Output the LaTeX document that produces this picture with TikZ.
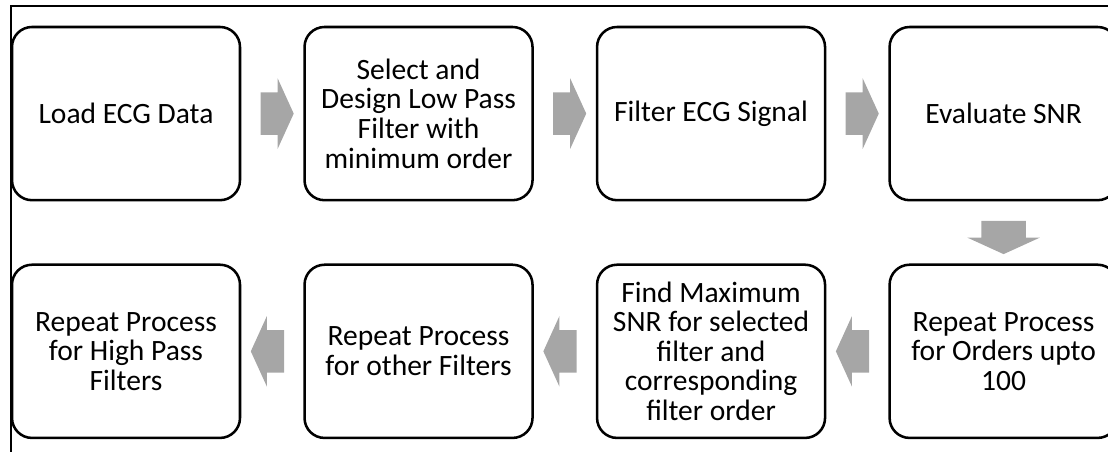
\documentclass[tikz,border=0pt]{standalone}
\usepackage{fontspec}
\setmainfont{Carlito}
\usepackage{tikz}
\usetikzlibrary{arrows.meta,shapes,positioning,calc}
\definecolor{flowgray}{RGB}{166,166,166}

\begin{document}
\begin{tikzpicture}[
    node distance=1.55cm,
    stage/.style={rectangle, draw=black, line width=1.8pt, rounded corners=0.5cm, minimum width=5.7cm, minimum height=4.33cm, align=center, font=\fontsize{21}{21}\selectfont},
    blockarrow/.style={single arrow, fill=flowgray, draw=none, inner xsep=0pt, inner ysep=0.525cm, minimum height=0.83cm, single arrow head extend=0.35cm, single arrow tip angle=131},
    downarrow/.style={blockarrow, shape border rotate=270, inner xsep=0.55cm, inner ysep=0pt, minimum width=0.83cm}
]
    \useasboundingbox (0,0) rectangle (27.7,-11.3);
    \draw[line width=1pt] (0.275,-11.3) -- (0.275,-0.15) -- (27.7,-0.15);

    \node[stage] (load) at (3.15,-2.84) {Load ECG Data};
    \node[stage, right=of load] (design) {Select and\\Design Low Pass\\Filter with\\minimum order};
    \node[stage, right=of design] (filt) {Filter ECG Signal};
    \node[stage, right=of filt] (snr) {Evaluate SNR};
    \node[stage, below=of snr] (orders) {Repeat Process\\for Orders upto\\100};
    \node[stage, below=of filt] (maxsnr) {Find Maximum\\SNR for selected\\filter and\\corresponding\\filter order};
    \node[stage, below=of design] (other) {Repeat Process\\for other Filters};
    \node[stage, below=of load] (high) {Repeat Process\\for High Pass\\Filters};

    \node[blockarrow] (a1) at ($(load.east)!0.5!(design.west)$) {};
    \node[blockarrow] (a2) at ($(design.east)!0.5!(filt.west)$) {};
    \node[blockarrow] (a3) at ($(filt.east)!0.5!(snr.west)$) {};
    \node[downarrow] (a4) at ($(snr.south)!0.5!(orders.north)$) {};
    \node[blockarrow, shape border rotate=180] (a5) at ($(orders.west)!0.5!(maxsnr.east)$) {};
    \node[blockarrow, shape border rotate=180] (a6) at ($(maxsnr.west)!0.5!(other.east)$) {};
    \node[blockarrow, shape border rotate=180] (a7) at ($(other.west)!0.5!(high.east)$) {};
\end{tikzpicture}
\end{document}
